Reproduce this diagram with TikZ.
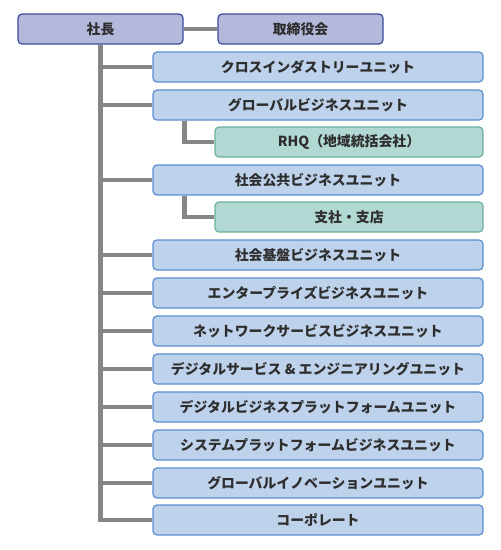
\documentclass[tikz,border=0pt]{standalone}
\usepackage{fontspec}
\newfontfamily\jpfont{Noto Sans CJK JP}
\usetikzlibrary{positioning,calc}

\definecolor{topfill}{HTML}{B4B8DA}
\definecolor{topdraw}{HTML}{3C4A9A}
\definecolor{unitfill}{HTML}{BED2EC}
\definecolor{unitdraw}{HTML}{5A8ED0}
\definecolor{subfill}{HTML}{B2D8D3}
\definecolor{subdraw}{HTML}{6CAE9F}
\definecolor{linkgray}{HTML}{868686}
\definecolor{txt}{HTML}{2E2E2E}

\begin{document}
\begin{tikzpicture}[
  x=0.75pt, y=-0.75pt,
  box/.style={
    rectangle,
    rounded corners=3pt,
    line width=0.9pt,
    inner sep=0pt,
    minimum height=22.5pt,
    font=\jpfont\bfseries\fontsize{10.4pt}{12pt}\selectfont,
    text=txt
  },
  topbox/.style={box, fill=topfill, draw=topdraw, minimum width=123.75pt},
  unitbox/.style={box, fill=unitfill, draw=unitdraw, minimum width=247.5pt},
  subbox/.style={box, fill=subfill, draw=subdraw, minimum width=201pt},
  link/.style={draw=linkgray, line width=3.6pt}
]
\useasboundingbox (0,0) rectangle (500,550);

% top level
\node[topbox] (ceo) at (100.5, 29) {社長};
\node[topbox] (board) at (300.5, 29) {取締役会};

% units
\node[unitbox] (cross) at (318, 67) {クロスインダストリーユニット};
\node[unitbox] (global) at (318, 105) {グローバルビジネスユニット};
\node[subbox] (rhq) at (349, 142) {RHQ（地域統括会社）};
\node[unitbox] (public) at (318, 180) {社会公共ビジネスユニット};
\node[subbox] (branch) at (349, 217) {支社・支店};
\node[unitbox] (infra) at (318, 255) {社会基盤ビジネスユニット};
\node[unitbox] (enterprise) at (318, 293) {エンタープライズビジネスユニット};
\node[unitbox] (network) at (318, 331) {ネットワークサービスビジネスユニット};
\node[unitbox] (digiserv) at (318, 369) {デジタルサービス \& エンジニアリングユニット};
\node[unitbox] (digiplat) at (318, 407) {デジタルビジネスプラットフォームユニット};
\node[unitbox] (sysplat) at (318, 445) {システムプラットフォームビジネスユニット};
\node[unitbox] (innov) at (318, 483) {グローバルイノベーションユニット};
\node[unitbox] (corp) at (318, 520) {コーポレート};

% connectors
\begin{scope}[on background layer/.try]
\draw[link] (ceo.east) -- (board.west);
\draw[link] (ceo.south) |- (corp.west);
\foreach \u in {cross,global,public,infra,enterprise,network,digiserv,digiplat,sysplat,innov}
  \draw[link] (ceo.south) |- (\u.west);
\draw[link] ([xshift=24pt]global.south west) |- (rhq.west);
\draw[link] ([xshift=24pt]public.south west) |- (branch.west);
\end{scope}

\end{tikzpicture}
\end{document}
